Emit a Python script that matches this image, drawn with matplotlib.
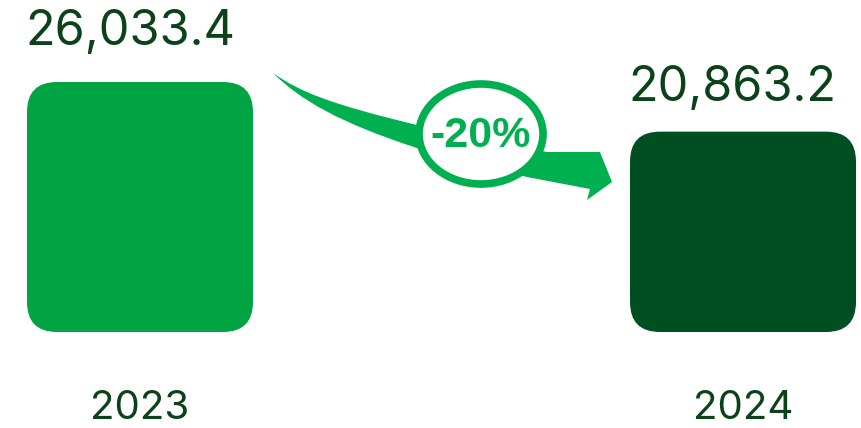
import matplotlib
matplotlib.use("Agg")
import matplotlib.pyplot as plt
from matplotlib.patches import FancyBboxPatch, Ellipse, PathPatch
from matplotlib.path import Path
import matplotlib.transforms as mtransforms

years = ["2023", "2024"]
values = [26033.4, 20863.2]
change_label = "-20%"

BAR_COLORS = ["#00a443", "#004f21"]
TEXT_COLOR = "#0c4219"
ARROW_COLOR = "#00b050"

W, H, DPI = 861, 428, 100
fig = plt.figure(figsize=(W / DPI, H / DPI), dpi=DPI)
ax = fig.add_axes([0, 0, 1, 1])

# pixel-based scale: bar centres at 140 / 743 px, baseline at 332 px from top
x_unit_px = 603.0
y_per_px = max(values) / 250.0
ax.set_xlim(-140 / x_unit_px, (W - 140) / x_unit_px)
ax.set_ylim(-96 * y_per_px, (H - 96) * y_per_px)
ax.axis("off")

bar_w = 226 / x_unit_px
radius = 30 / x_unit_px
for i, (year, val) in enumerate(zip(years, values)):
    box = FancyBboxPatch((i - bar_w / 2, 0), bar_w, val,
                         boxstyle=f"round,pad=0,rounding_size={radius}",
                         mutation_aspect=y_per_px * x_unit_px,
                         facecolor=BAR_COLORS[i], edgecolor="none")
    ax.add_patch(box)
    ax.annotate(f"{val:,.1f}", (i - bar_w / 2, val), xytext=(-1, 22 if i else 27),
                textcoords="offset points", ha="left", va="baseline",
                fontsize=35, color=TEXT_COLOR, family="Inter")
    ax.text(i, 0.003, year, transform=mtransforms.blended_transform_factory(ax.transData, ax.transAxes),
            ha="center", va="bottom", fontsize=29, color=TEXT_COLOR, family="Inter")

# decorative curved arrow drawn in pixel coordinates (origin top-left)
ov = fig.add_axes([0, 0, 1, 1], facecolor="none")
ov.set_xlim(0, W)
ov.set_ylim(H, 0)
ov.axis("off")

verts = [
    (273, 73),
    (300, 92), (330, 104), (417, 125),
    (547, 152),
    (600, 152), (612, 182), (587, 200),
    (590, 189),
    (527, 177),
    (417, 148),
    (340, 123), (300, 100), (273, 73),
    (273, 73),
]
codes = [Path.MOVETO,
         Path.CURVE4, Path.CURVE4, Path.CURVE4,
         Path.LINETO,
         Path.LINETO, Path.LINETO, Path.LINETO,
         Path.LINETO,
         Path.LINETO,
         Path.LINETO,
         Path.CURVE4, Path.CURVE4, Path.CURVE4,
         Path.CLOSEPOLY]
ov.add_patch(PathPatch(Path(verts, codes), facecolor=ARROW_COLOR, edgecolor="none"))
ov.add_patch(Ellipse((481, 134), 124, 100, facecolor="white", edgecolor=ARROW_COLOR, linewidth=5.5))
ov.text(481, 136, change_label, ha="center", va="center", fontsize=31, fontweight="bold",
        color=ARROW_COLOR, family="Liberation Sans")

fig.savefig("out.png", dpi=DPI)
